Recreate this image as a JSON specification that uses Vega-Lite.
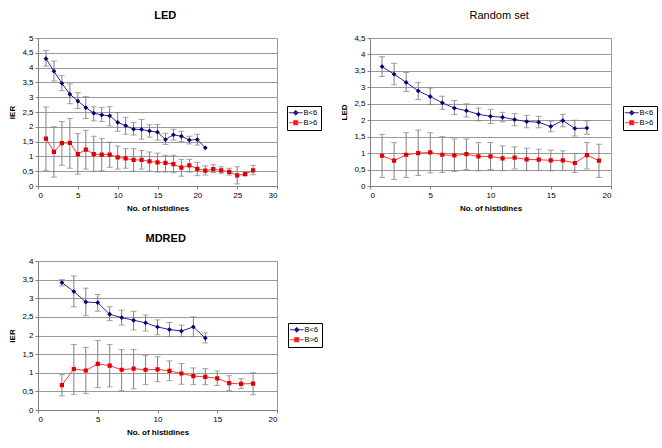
{
  "$schema": "https://vega.github.io/schema/vega-lite/v6.json",
  "background": "white",
  "padding": {"left": 8, "top": 9, "right": 0, "bottom": 5},
  "config": {
    "font": "Liberation Sans",
    "view": {"stroke": "#9a9a9a"},
    "title": {"fontSize": 11, "fontWeight": "bold", "font": "Liberation Sans", "offset": 13, "frame": "bounds", "anchor": "middle", "color": "#000"},
    "axis": {"labelFont": "Liberation Sans", "labelFontSize": 8, "titleFont": "Liberation Sans", "titleFontSize": 8, "titleFontWeight": "bold", "domainColor": "#808080", "tickColor": "#808080", "tickSize": 3, "labelColor": "#000", "titleColor": "#000", "labelPadding": 2, "labelOverlap": false},
    "axisX": {"grid": false, "titlePadding": 5},
    "axisY": {"gridColor": "#9a9a9a", "titlePadding": 5},
    "legend": {"strokeColor": "#000", "fillColor": "#fff", "padding": 3, "labelFontSize": 7.5, "labelFont": "Liberation Sans", "rowPadding": 0, "labelOffset": 4, "symbolOffset": 2, "symbolStrokeWidth": 1, "symbolSize": 36}
  },
  "datasets": {
    "led": [
      {"g":"B<6","n":1,"v":4.3,"lo":4.05,"hi":4.58},
      {"g":"B<6","n":2,"v":3.88,"lo":3.55,"hi":4.22},
      {"g":"B<6","n":3,"v":3.47,"lo":3.22,"hi":3.73},
      {"g":"B<6","n":4,"v":3.1,"lo":2.78,"hi":3.45},
      {"g":"B<6","n":5,"v":2.87,"lo":2.62,"hi":3.15},
      {"g":"B<6","n":6,"v":2.65,"lo":2.28,"hi":3.02},
      {"g":"B<6","n":7,"v":2.46,"lo":2.2,"hi":2.68},
      {"g":"B<6","n":8,"v":2.4,"lo":2.18,"hi":2.65},
      {"g":"B<6","n":9,"v":2.37,"lo":2.03,"hi":2.68},
      {"g":"B<6","n":10,"v":2.15,"lo":1.85,"hi":2.48},
      {"g":"B<6","n":11,"v":2.04,"lo":1.75,"hi":2.32},
      {"g":"B<6","n":12,"v":1.92,"lo":1.72,"hi":2.15},
      {"g":"B<6","n":13,"v":1.91,"lo":1.58,"hi":2.25},
      {"g":"B<6","n":14,"v":1.86,"lo":1.65,"hi":2.07},
      {"g":"B<6","n":15,"v":1.82,"lo":1.55,"hi":2.08},
      {"g":"B<6","n":16,"v":1.57,"lo":1.4,"hi":1.78},
      {"g":"B<6","n":17,"v":1.73,"lo":1.55,"hi":1.92},
      {"g":"B<6","n":18,"v":1.68,"lo":1.5,"hi":1.85},
      {"g":"B<6","n":19,"v":1.55,"lo":1.42,"hi":1.68},
      {"g":"B<6","n":20,"v":1.57,"lo":1.38,"hi":1.75},
      {"g":"B<6","n":21,"v":1.29,"lo":null,"hi":null},
      {"g":"B>6","n":1,"v":1.6,"lo":0.53,"hi":2.67},
      {"g":"B>6","n":2,"v":1.15,"lo":0.3,"hi":2.0},
      {"g":"B>6","n":3,"v":1.45,"lo":0.7,"hi":2.18},
      {"g":"B>6","n":4,"v":1.46,"lo":0.6,"hi":2.28},
      {"g":"B>6","n":5,"v":1.08,"lo":0.4,"hi":1.77},
      {"g":"B>6","n":6,"v":1.23,"lo":0.57,"hi":1.88},
      {"g":"B>6","n":7,"v":1.08,"lo":0.5,"hi":1.68},
      {"g":"B>6","n":8,"v":1.06,"lo":0.52,"hi":1.6},
      {"g":"B>6","n":9,"v":1.06,"lo":0.63,"hi":1.48},
      {"g":"B>6","n":10,"v":0.97,"lo":0.57,"hi":1.35},
      {"g":"B>6","n":11,"v":0.93,"lo":0.6,"hi":1.26},
      {"g":"B>6","n":12,"v":0.88,"lo":0.5,"hi":1.26},
      {"g":"B>6","n":13,"v":0.88,"lo":0.57,"hi":1.2},
      {"g":"B>6","n":14,"v":0.83,"lo":0.5,"hi":1.15},
      {"g":"B>6","n":15,"v":0.8,"lo":0.47,"hi":1.11},
      {"g":"B>6","n":16,"v":0.78,"lo":0.47,"hi":1.04},
      {"g":"B>6","n":17,"v":0.74,"lo":0.45,"hi":1.04},
      {"g":"B>6","n":18,"v":0.62,"lo":0.33,"hi":0.9},
      {"g":"B>6","n":19,"v":0.7,"lo":0.47,"hi":0.9},
      {"g":"B>6","n":20,"v":0.58,"lo":0.35,"hi":0.8},
      {"g":"B>6","n":21,"v":0.52,"lo":0.37,"hi":0.68},
      {"g":"B>6","n":22,"v":0.57,"lo":0.45,"hi":0.72},
      {"g":"B>6","n":23,"v":0.53,"lo":0.43,"hi":0.65},
      {"g":"B>6","n":24,"v":0.48,"lo":0.37,"hi":0.6},
      {"g":"B>6","n":25,"v":0.36,"lo":0.07,"hi":0.65},
      {"g":"B>6","n":26,"v":0.4,"lo":0.35,"hi":0.47},
      {"g":"B>6","n":27,"v":0.53,"lo":0.38,"hi":0.7}
    ],
    "rnd": [
      {"g":"B<6","n":1,"v":3.63,"lo":3.33,"hi":3.93},
      {"g":"B<6","n":2,"v":3.4,"lo":3.08,"hi":3.73},
      {"g":"B<6","n":3,"v":3.15,"lo":2.87,"hi":3.45},
      {"g":"B<6","n":4,"v":2.89,"lo":2.63,"hi":3.15},
      {"g":"B<6","n":5,"v":2.72,"lo":2.48,"hi":2.98},
      {"g":"B<6","n":6,"v":2.53,"lo":2.33,"hi":2.73},
      {"g":"B<6","n":7,"v":2.37,"lo":2.17,"hi":2.6},
      {"g":"B<6","n":8,"v":2.29,"lo":2.1,"hi":2.5},
      {"g":"B<6","n":9,"v":2.18,"lo":1.98,"hi":2.37},
      {"g":"B<6","n":10,"v":2.12,"lo":1.9,"hi":2.33},
      {"g":"B<6","n":11,"v":2.09,"lo":1.95,"hi":2.24},
      {"g":"B<6","n":12,"v":2.02,"lo":1.83,"hi":2.2},
      {"g":"B<6","n":13,"v":1.96,"lo":1.77,"hi":2.15},
      {"g":"B<6","n":14,"v":1.94,"lo":1.77,"hi":2.12},
      {"g":"B<6","n":15,"v":1.81,"lo":1.65,"hi":1.97},
      {"g":"B<6","n":16,"v":1.99,"lo":1.8,"hi":2.18},
      {"g":"B<6","n":17,"v":1.75,"lo":1.52,"hi":2.0},
      {"g":"B<6","n":18,"v":1.76,"lo":1.57,"hi":1.98},
      {"g":"B>6","n":1,"v":0.92,"lo":0.26,"hi":1.57},
      {"g":"B>6","n":2,"v":0.77,"lo":0.2,"hi":1.32},
      {"g":"B>6","n":3,"v":0.95,"lo":0.26,"hi":1.62},
      {"g":"B>6","n":4,"v":1.0,"lo":0.32,"hi":1.7},
      {"g":"B>6","n":5,"v":1.02,"lo":0.4,"hi":1.62},
      {"g":"B>6","n":6,"v":0.95,"lo":0.41,"hi":1.5},
      {"g":"B>6","n":7,"v":0.93,"lo":0.44,"hi":1.43},
      {"g":"B>6","n":8,"v":0.97,"lo":0.5,"hi":1.43},
      {"g":"B>6","n":9,"v":0.9,"lo":0.46,"hi":1.32},
      {"g":"B>6","n":10,"v":0.9,"lo":0.5,"hi":1.32},
      {"g":"B>6","n":11,"v":0.84,"lo":0.47,"hi":1.22},
      {"g":"B>6","n":12,"v":0.86,"lo":0.52,"hi":1.19},
      {"g":"B>6","n":13,"v":0.81,"lo":0.47,"hi":1.15},
      {"g":"B>6","n":14,"v":0.8,"lo":0.47,"hi":1.12},
      {"g":"B>6","n":15,"v":0.78,"lo":0.46,"hi":1.09},
      {"g":"B>6","n":16,"v":0.78,"lo":0.47,"hi":1.07},
      {"g":"B>6","n":17,"v":0.7,"lo":0.41,"hi":0.99},
      {"g":"B>6","n":18,"v":0.94,"lo":0.52,"hi":1.32},
      {"g":"B>6","n":19,"v":0.77,"lo":0.26,"hi":1.27}
    ],
    "mdr": [
      {"g":"B<6","n":2,"v":3.42,"lo":3.33,"hi":3.5},
      {"g":"B<6","n":3,"v":3.18,"lo":2.77,"hi":3.6},
      {"g":"B<6","n":4,"v":2.9,"lo":2.53,"hi":3.27},
      {"g":"B<6","n":5,"v":2.88,"lo":2.65,"hi":3.1},
      {"g":"B<6","n":6,"v":2.57,"lo":2.4,"hi":2.77},
      {"g":"B<6","n":7,"v":2.48,"lo":2.28,"hi":2.68},
      {"g":"B<6","n":8,"v":2.41,"lo":2.15,"hi":2.65},
      {"g":"B<6","n":9,"v":2.34,"lo":2.12,"hi":2.55},
      {"g":"B<6","n":10,"v":2.23,"lo":2.02,"hi":2.42},
      {"g":"B<6","n":11,"v":2.16,"lo":1.97,"hi":2.35},
      {"g":"B<6","n":12,"v":2.12,"lo":1.97,"hi":2.28},
      {"g":"B<6","n":13,"v":2.23,"lo":1.97,"hi":2.5},
      {"g":"B<6","n":14,"v":1.93,"lo":1.8,"hi":2.07},
      {"g":"B>6","n":2,"v":0.67,"lo":0.38,"hi":0.95},
      {"g":"B>6","n":3,"v":1.1,"lo":0.42,"hi":1.76},
      {"g":"B>6","n":4,"v":1.06,"lo":0.44,"hi":1.68},
      {"g":"B>6","n":5,"v":1.24,"lo":0.6,"hi":1.87},
      {"g":"B>6","n":6,"v":1.19,"lo":0.62,"hi":1.76},
      {"g":"B>6","n":7,"v":1.08,"lo":0.52,"hi":1.62},
      {"g":"B>6","n":8,"v":1.11,"lo":0.57,"hi":1.62},
      {"g":"B>6","n":9,"v":1.08,"lo":0.68,"hi":1.46},
      {"g":"B>6","n":10,"v":1.09,"lo":0.76,"hi":1.43},
      {"g":"B>6","n":11,"v":1.05,"lo":0.79,"hi":1.32},
      {"g":"B>6","n":12,"v":0.98,"lo":0.69,"hi":1.25},
      {"g":"B>6","n":13,"v":0.91,"lo":0.68,"hi":1.13},
      {"g":"B>6","n":14,"v":0.89,"lo":0.68,"hi":1.11},
      {"g":"B>6","n":15,"v":0.85,"lo":0.66,"hi":1.05},
      {"g":"B>6","n":16,"v":0.72,"lo":0.52,"hi":0.92},
      {"g":"B>6","n":17,"v":0.7,"lo":0.58,"hi":0.84},
      {"g":"B>6","n":18,"v":0.71,"lo":0.41,"hi":1.0}
    ]
  },
  "vconcat": [
    {
      "hconcat": [
        {
          "title": "LED",
          "width": 239, "height": 148,
          "data": {"name": "led"},
          "layer": [
            {
              "transform": [{"filter": "isValid(datum.lo)"}],
              "mark": {"type": "errorbar", "ticks": {"size": 6}, "color": "#808080"},
              "encoding": {
                "x": {"field": "n", "type": "quantitative", "scale": {"domain": [0, 30], "nice": false}, "axis": {"values": [0,5,10,15,20,25,30]}, "title": "No. of histidines"},
                "y": {"field": "lo", "type": "quantitative", "scale": {"domain": [0, 5], "nice": false}, "axis": {"values": [0,0.5,1,1.5,2,2.5,3,3.5,4,4.5,5], "labelExpr": "replace(format(datum.value, '~g'), '.', ',')"}, "title": "IER"},
                "y2": {"field": "hi"}
              }
            },
            {
              "mark": {"type": "line", "strokeWidth": 1},
              "encoding": {
                "x": {"field": "n", "type": "quantitative", "scale": {"domain": [0, 30], "nice": false}, "axis": {"values": [0,5,10,15,20,25,30]}, "title": "No. of histidines"},
                "y": {"field": "v", "type": "quantitative", "scale": {"domain": [0, 5], "nice": false}, "axis": {"values": [0,0.5,1,1.5,2,2.5,3,3.5,4,4.5,5], "labelExpr": "replace(format(datum.value, '~g'), '.', ',')"}, "title": "IER"},
                "detail": {"field": "g"},
                "stroke": {"condition": {"test": "datum.g === 'B<6'", "value": "#2a2a90"}, "value": "#ff3a3a"}
              }
            },
            {
              "mark": {"type": "point", "filled": true, "size": 36, "opacity": 1, "strokeWidth": 0},
              "encoding": {
                "x": {"field": "n", "type": "quantitative", "scale": {"domain": [0, 30], "nice": false}, "axis": {"values": [0,5,10,15,20,25,30]}, "title": "No. of histidines"},
                "y": {"field": "v", "type": "quantitative", "scale": {"domain": [0, 5], "nice": false}, "axis": {"values": [0,0.5,1,1.5,2,2.5,3,3.5,4,4.5,5], "labelExpr": "replace(format(datum.value, '~g'), '.', ',')"}, "title": "IER"},
                "fill": {"field": "g", "type": "nominal", "scale": {"domain": ["B<6", "B>6"], "range": ["#000080", "#e00000"]}, "legend": {"title": null, "orient": "none", "legendX": 249, "legendY": 68, "symbolStrokeWidth": 1, "symbolSize": 36}},
                "stroke": {"field": "g", "type": "nominal", "scale": {"domain": ["B<6", "B>6"], "range": ["#2a2a90", "#ff3a3a"]}, "legend": {"title": null, "orient": "none", "legendX": 249, "legendY": 68, "symbolStrokeWidth": 1, "symbolSize": 36}},
                "shape": {"field": "g", "type": "nominal", "scale": {"domain": ["B<6", "B>6"], "range": ["M-2.3,0H2.3M0,-0.8L0.8,0L0,0.8L-0.8,0Z", "M-2.3,0H2.3M-0.7,-0.7H0.7V0.7H-0.7Z"]}, "legend": {"title": null, "orient": "none", "legendX": 249, "legendY": 68, "symbolStrokeWidth": 1, "symbolSize": 36}}
              }
            }
          ]
        },
        {
          "title": {"text": "Random set", "fontWeight": "normal"},
          "width": 241, "height": 148,
          "data": {"name": "rnd"},
          "layer": [
            {
              "transform": [{"filter": "isValid(datum.lo)"}],
              "mark": {"type": "errorbar", "ticks": {"size": 6}, "color": "#808080"},
              "encoding": {
                "x": {"field": "n", "type": "quantitative", "scale": {"domain": [0, 20], "nice": false}, "axis": {"values": [0,5,10,15,20]}, "title": "No. of histidines"},
                "y": {"field": "lo", "type": "quantitative", "scale": {"domain": [0, 4.5], "nice": false}, "axis": {"values": [0,0.5,1,1.5,2,2.5,3,3.5,4,4.5], "labelExpr": "replace(format(datum.value, '~g'), '.', ',')"}, "title": "LED"},
                "y2": {"field": "hi"}
              }
            },
            {
              "mark": {"type": "line", "strokeWidth": 1},
              "encoding": {
                "x": {"field": "n", "type": "quantitative", "scale": {"domain": [0, 20], "nice": false}, "axis": {"values": [0,5,10,15,20]}, "title": "No. of histidines"},
                "y": {"field": "v", "type": "quantitative", "scale": {"domain": [0, 4.5], "nice": false}, "axis": {"values": [0,0.5,1,1.5,2,2.5,3,3.5,4,4.5], "labelExpr": "replace(format(datum.value, '~g'), '.', ',')"}, "title": "LED"},
                "detail": {"field": "g"},
                "stroke": {"condition": {"test": "datum.g === 'B<6'", "value": "#2a2a90"}, "value": "#ff3a3a"}
              }
            },
            {
              "mark": {"type": "point", "filled": true, "size": 36, "opacity": 1, "strokeWidth": 0},
              "encoding": {
                "x": {"field": "n", "type": "quantitative", "scale": {"domain": [0, 20], "nice": false}, "axis": {"values": [0,5,10,15,20]}, "title": "No. of histidines"},
                "y": {"field": "v", "type": "quantitative", "scale": {"domain": [0, 4.5], "nice": false}, "axis": {"values": [0,0.5,1,1.5,2,2.5,3,3.5,4,4.5], "labelExpr": "replace(format(datum.value, '~g'), '.', ',')"}, "title": "LED"},
                "fill": {"field": "g", "type": "nominal", "scale": {"domain": ["B<6", "B>6"], "range": ["#000080", "#e00000"]}, "legend": {"title": null, "orient": "none", "legendX": 253, "legendY": 68, "symbolStrokeWidth": 1, "symbolSize": 36}},
                "stroke": {"field": "g", "type": "nominal", "scale": {"domain": ["B<6", "B>6"], "range": ["#2a2a90", "#ff3a3a"]}, "legend": {"title": null, "orient": "none", "legendX": 253, "legendY": 68, "symbolStrokeWidth": 1, "symbolSize": 36}},
                "shape": {"field": "g", "type": "nominal", "scale": {"domain": ["B<6", "B>6"], "range": ["M-2.3,0H2.3M0,-0.8L0.8,0L0,0.8L-0.8,0Z", "M-2.3,0H2.3M-0.7,-0.7H0.7V0.7H-0.7Z"]}, "legend": {"title": null, "orient": "none", "legendX": 253, "legendY": 68, "symbolStrokeWidth": 1, "symbolSize": 36}}
              }
            }
          ]
        }
      ],
      "spacing": 18,
      "resolve": {"scale": {"fill": "independent", "shape": "independent", "stroke": "independent"}, "legend": {"fill": "independent", "shape": "independent", "stroke": "independent"}}
    },
    {
      "title": "MDRED",
      "width": 239, "height": 149,
      "data": {"name": "mdr"},
      "layer": [
        {
          "transform": [{"filter": "isValid(datum.lo)"}],
          "mark": {"type": "errorbar", "ticks": {"size": 6}, "color": "#808080"},
          "encoding": {
            "x": {"field": "n", "type": "quantitative", "scale": {"domain": [0, 20], "nice": false}, "axis": {"values": [0,5,10,15,20]}, "title": "No. of histidines"},
            "y": {"field": "lo", "type": "quantitative", "scale": {"domain": [0, 4], "nice": false}, "axis": {"values": [0,0.5,1,1.5,2,2.5,3,3.5,4], "labelExpr": "replace(format(datum.value, '~g'), '.', ',')"}, "title": "IER"},
            "y2": {"field": "hi"}
          }
        },
        {
          "mark": {"type": "line", "strokeWidth": 1},
          "encoding": {
            "x": {"field": "n", "type": "quantitative", "scale": {"domain": [0, 20], "nice": false}, "axis": {"values": [0,5,10,15,20]}, "title": "No. of histidines"},
            "y": {"field": "v", "type": "quantitative", "scale": {"domain": [0, 4], "nice": false}, "axis": {"values": [0,0.5,1,1.5,2,2.5,3,3.5,4], "labelExpr": "replace(format(datum.value, '~g'), '.', ',')"}, "title": "IER"},
            "detail": {"field": "g"},
            "stroke": {"condition": {"test": "datum.g === 'B<6'", "value": "#2a2a90"}, "value": "#ff3a3a"}
          }
        },
        {
          "mark": {"type": "point", "filled": true, "size": 36, "opacity": 1, "strokeWidth": 0},
          "encoding": {
            "x": {"field": "n", "type": "quantitative", "scale": {"domain": [0, 20], "nice": false}, "axis": {"values": [0,5,10,15,20]}, "title": "No. of histidines"},
            "y": {"field": "v", "type": "quantitative", "scale": {"domain": [0, 4], "nice": false}, "axis": {"values": [0,0.5,1,1.5,2,2.5,3,3.5,4], "labelExpr": "replace(format(datum.value, '~g'), '.', ',')"}, "title": "IER"},
            "fill": {"field": "g", "type": "nominal", "scale": {"domain": ["B<6", "B>6"], "range": ["#000080", "#e00000"]}, "legend": {"title": null, "orient": "none", "legendX": 250, "legendY": 62, "symbolStrokeWidth": 1, "symbolSize": 36}},
            "stroke": {"field": "g", "type": "nominal", "scale": {"domain": ["B<6", "B>6"], "range": ["#2a2a90", "#ff3a3a"]}, "legend": {"title": null, "orient": "none", "legendX": 250, "legendY": 62, "symbolStrokeWidth": 1, "symbolSize": 36}},
            "shape": {"field": "g", "type": "nominal", "scale": {"domain": ["B<6", "B>6"], "range": ["M-2.3,0H2.3M0,-0.8L0.8,0L0,0.8L-0.8,0Z", "M-2.3,0H2.3M-0.7,-0.7H0.7V0.7H-0.7Z"]}, "legend": {"title": null, "orient": "none", "legendX": 250, "legendY": 62, "symbolStrokeWidth": 1, "symbolSize": 36}}
          }
        }
      ]
    }
  ],
  "spacing": 19,
  "resolve": {"scale": {"fill": "independent", "shape": "independent", "stroke": "independent"}, "legend": {"fill": "independent", "shape": "independent", "stroke": "independent"}}
}
